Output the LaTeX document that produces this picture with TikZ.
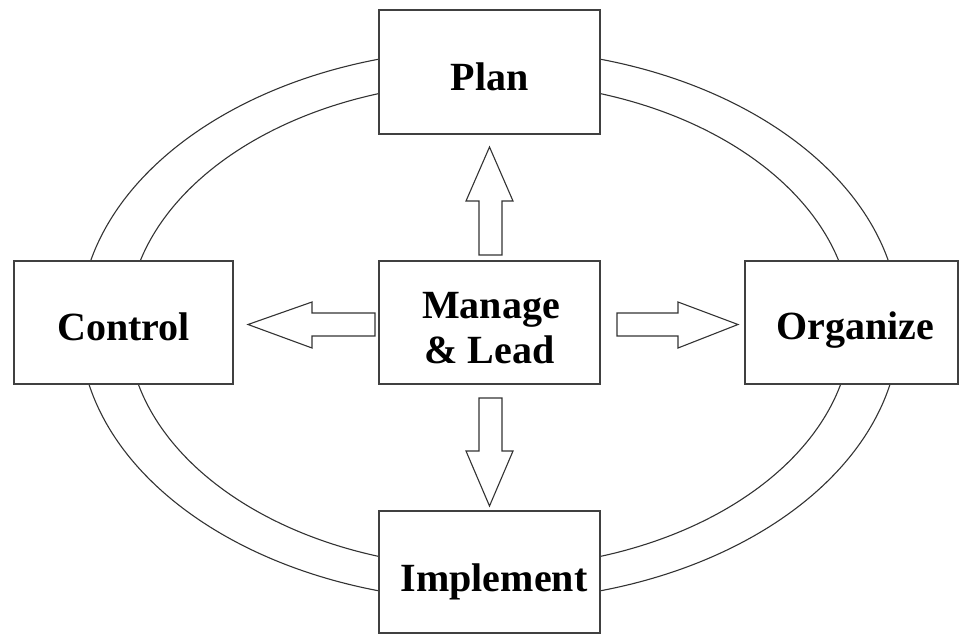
\documentclass[tikz,border=0pt]{standalone}
\usepackage{fontspec}
\setmainfont{Liberation Serif}
\begin{document}
\begin{tikzpicture}[x=1pt,y=-1pt,
  line width=1.1pt, draw=black!80,
  box/.style={draw=black!75, fill=white, line width=1.3pt, inner sep=0pt, anchor=center},
  lbl/.style={font=\fontsize{40}{48}\selectfont\bfseries, anchor=base, inner sep=0pt},
  ring/.style={draw=black!80, line width=1.1pt},
  blockarrow/.style={draw=black!80, fill=white, line width=1.1pt, line join=miter}]
\useasboundingbox (0,0) rectangle (960,634);
% rings
\draw[ring] (489.5,325) ellipse [x radius=410, y radius=276];
\draw[ring] (489.5,325) ellipse [x radius=362, y radius=243];
% boxes
\node[box, minimum width=221pt, minimum height=124pt] (plan) at (489.5,72) {};
\node[box, minimum width=219pt, minimum height=123pt] (control) at (123.5,322.5) {};
\node[box, minimum width=221pt, minimum height=123pt] (manage) at (489.5,322.5) {};
\node[box, minimum width=213pt, minimum height=123pt] (organize) at (851.5,322.5) {};
\node[box, minimum width=221pt, minimum height=122pt] (implement) at (489.5,572) {};
% labels
\node[lbl] (plant) at (489.5,90) {Plan};
\node[lbl] (controlt) at (123.5,340) {Control};
\node[lbl] (managet) at (491,318) {Manage};
\node[lbl] (leadt) at (489.5,363) {\&\ Lead};
\node[lbl] (organizet) at (855,339) {Organize};
\node[lbl] (implementt) at (494,591) {Implement};
% block arrows
\draw[blockarrow] (479,255) -- (479,201) -- (466,201) -- (489.5,147) -- (513,201) -- (502,201) -- (502,255) -- cycle;
\draw[blockarrow] (479,398) -- (479,451) -- (466,451) -- (489.5,506) -- (513,451) -- (502,451) -- (502,398) -- cycle;
\draw[blockarrow] (375,313) -- (312,313) -- (312,302) -- (248,324.5) -- (312,348) -- (312,336) -- (375,336) -- cycle;
\draw[blockarrow] (617,313) -- (678,313) -- (678,302) -- (738,324.5) -- (678,348) -- (678,336) -- (617,336) -- cycle;
\end{tikzpicture}
\end{document}
